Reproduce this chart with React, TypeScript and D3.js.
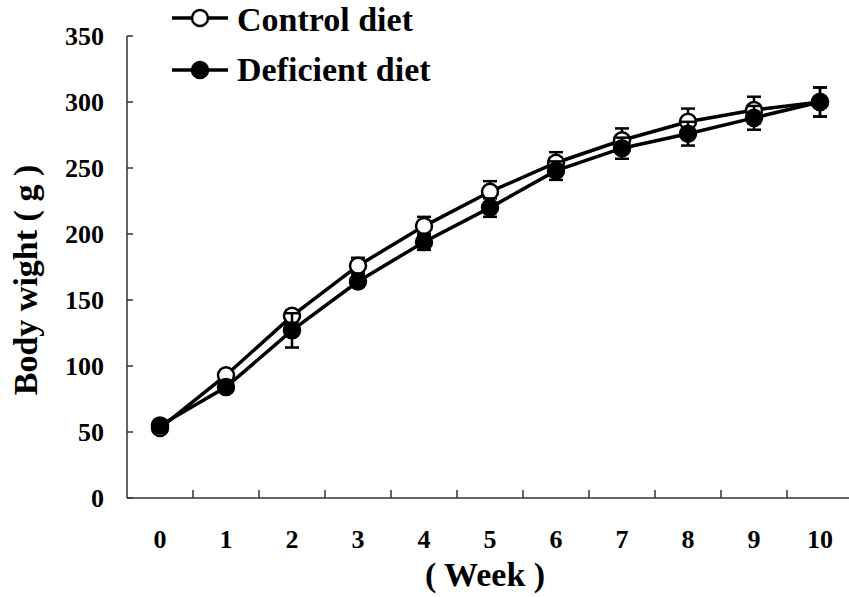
import React from "react";
import * as d3 from "d3";

// weeks on the x axis
const weeks = ["0", "1", "2", "3", "4", "5", "6", "7", "8", "9", "10"];
// mean body weight (g)
const controlMean = [53, 93, 138, 176, 206, 232, 254, 271, 285, 294, 300];
const deficientMean = [55, 84, 127, 164, 194, 220, 248, 265, 276, 288, 300];
// error (SD)
const controlErr = [3, 3, 4, 6, 7, 8, 8, 9, 10, 10, 11];
const deficientErr = [3, 3, 13, 4, 6, 7, 7, 8, 9, 9, 11];
const yTicks = [0, 50, 100, 150, 200, 250, 300, 350];

const W = 849;
const H = 597;
const FONT = "'Liberation Serif', 'Times New Roman', serif";

function Series({ means, errs, filled, x, y }) {
  const cx = (i) => x(weeks[i]) + x.bandwidth() / 2;
  const line = d3
    .line()
    .x((d, i) => cx(i))
    .y((d) => y(d));
  return (
    <g>
      <path d={line(means)} fill="none" stroke="#000" strokeWidth={3.5} />
      {means.map((m, i) => (
        <g key={"e" + i} stroke="#000" strokeWidth={2.5}>
          <line x1={cx(i)} x2={cx(i)} y1={y(m - errs[i])} y2={y(m + errs[i])} />
          <line x1={cx(i) - 7} x2={cx(i) + 7} y1={y(m + errs[i])} y2={y(m + errs[i])} />
          <line x1={cx(i) - 7} x2={cx(i) + 7} y1={y(m - errs[i])} y2={y(m - errs[i])} />
        </g>
      ))}
      {means.map((m, i) => (
        <circle
          key={"c" + i}
          cx={cx(i)}
          cy={y(m)}
          r={8}
          fill={filled ? "#000" : "#fff"}
          stroke="#000"
          strokeWidth={2.5}
        />
      ))}
    </g>
  );
}

export default function App() {
  const x = d3.scaleBand().domain(weeks).range([127, 127 + 66 * weeks.length]);
  const y = d3.scaleLinear().domain([0, 350]).range([498, 36]);

  return (
    <svg
      width={W}
      height={H}
      style={{ position: "absolute", left: 0, top: 0 }}
      fontFamily={FONT}
      fontWeight="bold"
    >
      <rect width={W} height={H} fill="#fff" />
      {/* axes */}
      <g stroke="#333" strokeWidth={1.5}>
        <line x1={127} x2={127} y1={y(350)} y2={y(0)} />
        <line x1={127} x2={W} y1={y(0)} y2={y(0)} />
        {yTicks.map((t) => (
          <line key={t} x1={127} x2={133} y1={y(t)} y2={y(t)} />
        ))}
        {weeks.slice(1).map((w) => (
          <line key={w} x1={x(w)} x2={x(w)} y1={y(0)} y2={y(0) - 8} />
        ))}
      </g>
      {yTicks.map((t) => (
        <text key={t} x={104} y={y(t) + 9} textAnchor="end" fontSize={26}>
          {t}
        </text>
      ))}
      {weeks.map((w) => (
        <text key={w} x={x(w) + x.bandwidth() / 2} y={548} textAnchor="middle" fontSize={26}>
          {w}
        </text>
      ))}
      <text x={485} y={586} textAnchor="middle" fontSize={34}>
        ( Week )
      </text>
      <text
        transform={`translate(37,280) rotate(-90)`}
        textAnchor="middle"
        fontSize={34}
      >
        Body wight ( g )
      </text>

      <Series means={controlMean} errs={controlErr} filled={false} x={x} y={y} />
      <Series means={deficientMean} errs={deficientErr} filled={true} x={x} y={y} />

      {/* legend */}
      <g>
        <line x1={172} x2={228} y1={18} y2={18} stroke="#000" strokeWidth={3.5} />
        <circle cx={200} cy={18} r={8} fill="#fff" stroke="#000" strokeWidth={2.5} />
        <text x={237} y={31} fontSize={34}>
          Control diet
        </text>
        <line x1={172} x2={228} y1={70} y2={70} stroke="#000" strokeWidth={3.5} />
        <circle cx={200} cy={70} r={8} fill="#000" stroke="#000" strokeWidth={2.5} />
        <text x={237} y={81} fontSize={34}>
          Deficient diet
        </text>
      </g>
    </svg>
  );
}
